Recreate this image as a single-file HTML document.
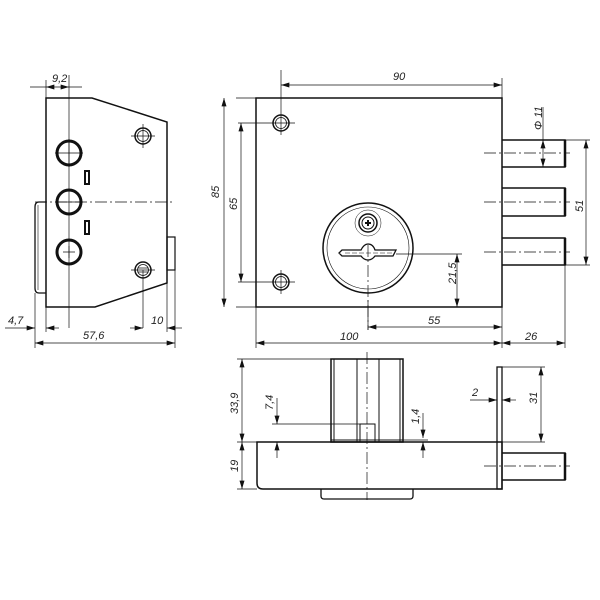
<!DOCTYPE html>
<html><head><meta charset="utf-8"><style>html,body{margin:0;padding:0;background:#fff}svg{display:block}text{font-family:"Liberation Sans",sans-serif;font-style:italic;font-size:11px;fill:#222}</style></head><body>
<svg width="600" height="600" viewBox="0 0 600 600" xmlns="http://www.w3.org/2000/svg">
<defs>
<marker id="a" viewBox="0 0 10 6" refX="10" refY="3" markerWidth="9" markerHeight="5" orient="auto-start-reverse" markerUnits="userSpaceOnUse"><path d="M0,0L10,3L0,6z" fill="#111"/></marker>
</defs>
<g fill="none" stroke="#111" stroke-width="1">
<!-- LEFT VIEW -->
<path d="M46,98H92L167,122V283L95,307H46Z" stroke-width="1.5"/>
<path d="M46,202H39Q35,202 35,207V288Q35,293 39,293H46" stroke-width="1.3"/>
<line x1="38" y1="205" x2="38" y2="290" stroke-width="0.6"/>
<rect x="167" y="237" width="8" height="33" stroke-width="1.2"/>
<g stroke-width="3"><circle cx="69" cy="153" r="12"/><circle cx="69" cy="202" r="12"/><circle cx="69" cy="252" r="12"/></g>
<g stroke-width="0.7"><path d="M55,153H83M69,139V167M55,202H83M63,252H75M69,246V258M63,153H75"/></g>
<rect x="85" y="171" width="4" height="13" stroke-width="2"/>
<rect x="85" y="221" width="4" height="13" stroke-width="2"/>
<circle cx="143" cy="136" r="8" stroke-width="1.5"/><circle cx="143" cy="136" r="5.5" stroke-width="0.8"/>
<circle cx="143" cy="270" r="8" stroke-width="1.5"/><circle cx="143" cy="270" r="5.5" stroke-width="0.8"/>
<path d="M131,136H155M143,124V148M138,268H148M138,272H148M131,270H155" stroke-width="0.7"/>
<path d="M35,202H172" stroke-width="0.7" stroke-dasharray="12,3,2,3"/>
<g stroke-width="0.7">
<path d="M46,98V80M69,75V328M143,270V328M35,293V348M175,270V348M46,307V332M167,283V332"/>
<line x1="46" y1="87" x2="69" y2="87" marker-start="url(#a)" marker-end="url(#a)"/>
<path d="M30,87H46M69,87H82"/>
<path d="M5,328H35" marker-end="url(#a)"/><path d="M59,328H46" marker-end="url(#a)"/>
<path d="M130,328H143" marker-end="url(#a)"/><path d="M182,328H167" marker-end="url(#a)"/>
<line x1="35" y1="343" x2="175" y2="343" marker-start="url(#a)" marker-end="url(#a)"/>
</g>
<!-- MAIN VIEW -->
<rect x="256" y="98" width="246" height="209" stroke-width="1.5"/>
<circle cx="281" cy="123" r="8" stroke-width="1.5"/><circle cx="281" cy="123" r="5.5" stroke-width="0.8"/>
<circle cx="281" cy="282" r="8" stroke-width="1.5"/><circle cx="281" cy="282" r="5.5" stroke-width="0.8"/>
<path d="M269,123H295M281,111V135M269,282H295M281,270V294" stroke-width="0.7"/>
<circle cx="368" cy="248" r="45" stroke-width="1.5"/>
<circle cx="368" cy="248" r="41" stroke-width="0.6"/>
<circle cx="368" cy="223" r="13" stroke-width="0.5"/>
<circle cx="368" cy="223" r="9" stroke-width="1.5"/>
<circle cx="368" cy="223" r="6" stroke-width="1"/>
<path d="M365,223H371M368,220V226" stroke-width="2"/>
<path d="M342,250H361Q364,244 368,244Q373,244 375,250H396L393,256H375Q372,260 368,260Q364,260 361,256H342L339,253Z" stroke-width="1.3"/>
<path d="M345,253H392" stroke-width="0.5" stroke-dasharray="5,2"/>
<g stroke-width="1.5">
<path d="M502,140H565V167H502"/><path d="M502,188H565V216H502"/><path d="M502,238H565V265H502"/>
</g>
<path d="M565,140V167M565,188V216M565,238V265" stroke-width="2.5"/>
<g stroke-width="0.7" stroke-dasharray="12,3,2,3"><path d="M484,153H570M484,202H570M484,252H570"/><path d="M368,245V330"/></g>
<g stroke-width="0.7">
<path d="M281,70V111M502,78V98M236,98H256M236,307H256M238,123H269M238,282H269M396,254H462M543,107V140M565,140H590M565,265H590M565,265V348M502,307V348M256,307V348M368,300V330"/>
<line x1="281" y1="85" x2="502" y2="85" marker-start="url(#a)" marker-end="url(#a)"/>
<line x1="224" y1="98" x2="224" y2="307" marker-start="url(#a)" marker-end="url(#a)"/>
<line x1="241" y1="123" x2="241" y2="282" marker-start="url(#a)" marker-end="url(#a)"/>
<line x1="457" y1="254" x2="457" y2="307" marker-start="url(#a)" marker-end="url(#a)"/>
<line x1="368" y1="327" x2="502" y2="327" marker-start="url(#a)" marker-end="url(#a)"/>
<line x1="256" y1="343" x2="502" y2="343" marker-start="url(#a)" marker-end="url(#a)"/>
<line x1="502" y1="343" x2="565" y2="343" marker-start="url(#a)" marker-end="url(#a)"/>
<line x1="586" y1="140" x2="586" y2="265" marker-start="url(#a)" marker-end="url(#a)"/>
<line x1="543" y1="140" x2="543" y2="167" marker-start="url(#a)" marker-end="url(#a)"/>
</g>
<!-- BOTTOM VIEW -->
<path d="M257,442H502V489H263Q257,489 257,483Z" stroke-width="1.5"/>
<rect x="331" y="359" width="72" height="83" stroke-width="1.5"/>
<path d="M334,359V442M357,359V442M379,359V442M400,359V442" stroke-width="1"/>
<rect x="360" y="424" width="15" height="18" stroke-width="1"/>
<path d="M321,489V496Q321,499 324,499H410Q413,499 413,496V489" stroke-width="1.3"/>
<path d="M331,440H403" stroke-width="1"/>
<rect x="497" y="367" width="5" height="122" stroke-width="1.3"/>
<path d="M502,453H565V480H502" stroke-width="1.5"/><path d="M565,453V480" stroke-width="2.5"/>
<g stroke-width="0.7" stroke-dasharray="12,3,2,3"><path d="M367,352V500M484,466H570"/></g>
<g stroke-width="0.7">
<path d="M237,359H331M237,442H257M237,489H257M272,424H360M272,442H257M403,440H428M502,367H545M502,442H545"/>
<line x1="242" y1="359" x2="242" y2="442" marker-start="url(#a)" marker-end="url(#a)"/>
<line x1="242" y1="442" x2="242" y2="489" marker-start="url(#a)" marker-end="url(#a)"/>
<path d="M277,398V424" marker-end="url(#a)"/><path d="M277,458V442" marker-end="url(#a)"/>
<path d="M423,413V438" marker-end="url(#a)"/><path d="M423,458V442" marker-end="url(#a)"/>
<path d="M470,400H497" marker-end="url(#a)"/><path d="M516,400H502" marker-end="url(#a)"/>
<line x1="541" y1="367" x2="541" y2="442" marker-start="url(#a)" marker-end="url(#a)"/>
</g>
</g>
<text x="52" y="82">9,2</text>
<text x="8" y="324">4,7</text>
<text x="151" y="324">10</text>
<text x="83" y="339">57,6</text>
<text x="393" y="80">90</text>
<text x="340" y="340">100</text>
<text x="428" y="324">55</text>
<text x="525" y="340">26</text>
<text transform="translate(219,198) rotate(-90)">85</text>
<text transform="translate(237,210) rotate(-90)">65</text>
<text transform="translate(456,284) rotate(-90)">21,5</text>
<text transform="translate(583,212) rotate(-90)">51</text>
<text transform="translate(542,130) rotate(-90)">Φ 11</text>
<text transform="translate(238,414) rotate(-90)">33,9</text>
<text transform="translate(238,472) rotate(-90)">19</text>
<text transform="translate(273,410) rotate(-90)">7,4</text>
<text transform="translate(419,424) rotate(-90)">1,4</text>
<text x="472" y="396">2</text>
<text transform="translate(537,404) rotate(-90)">31</text>
</svg>
</body></html>
